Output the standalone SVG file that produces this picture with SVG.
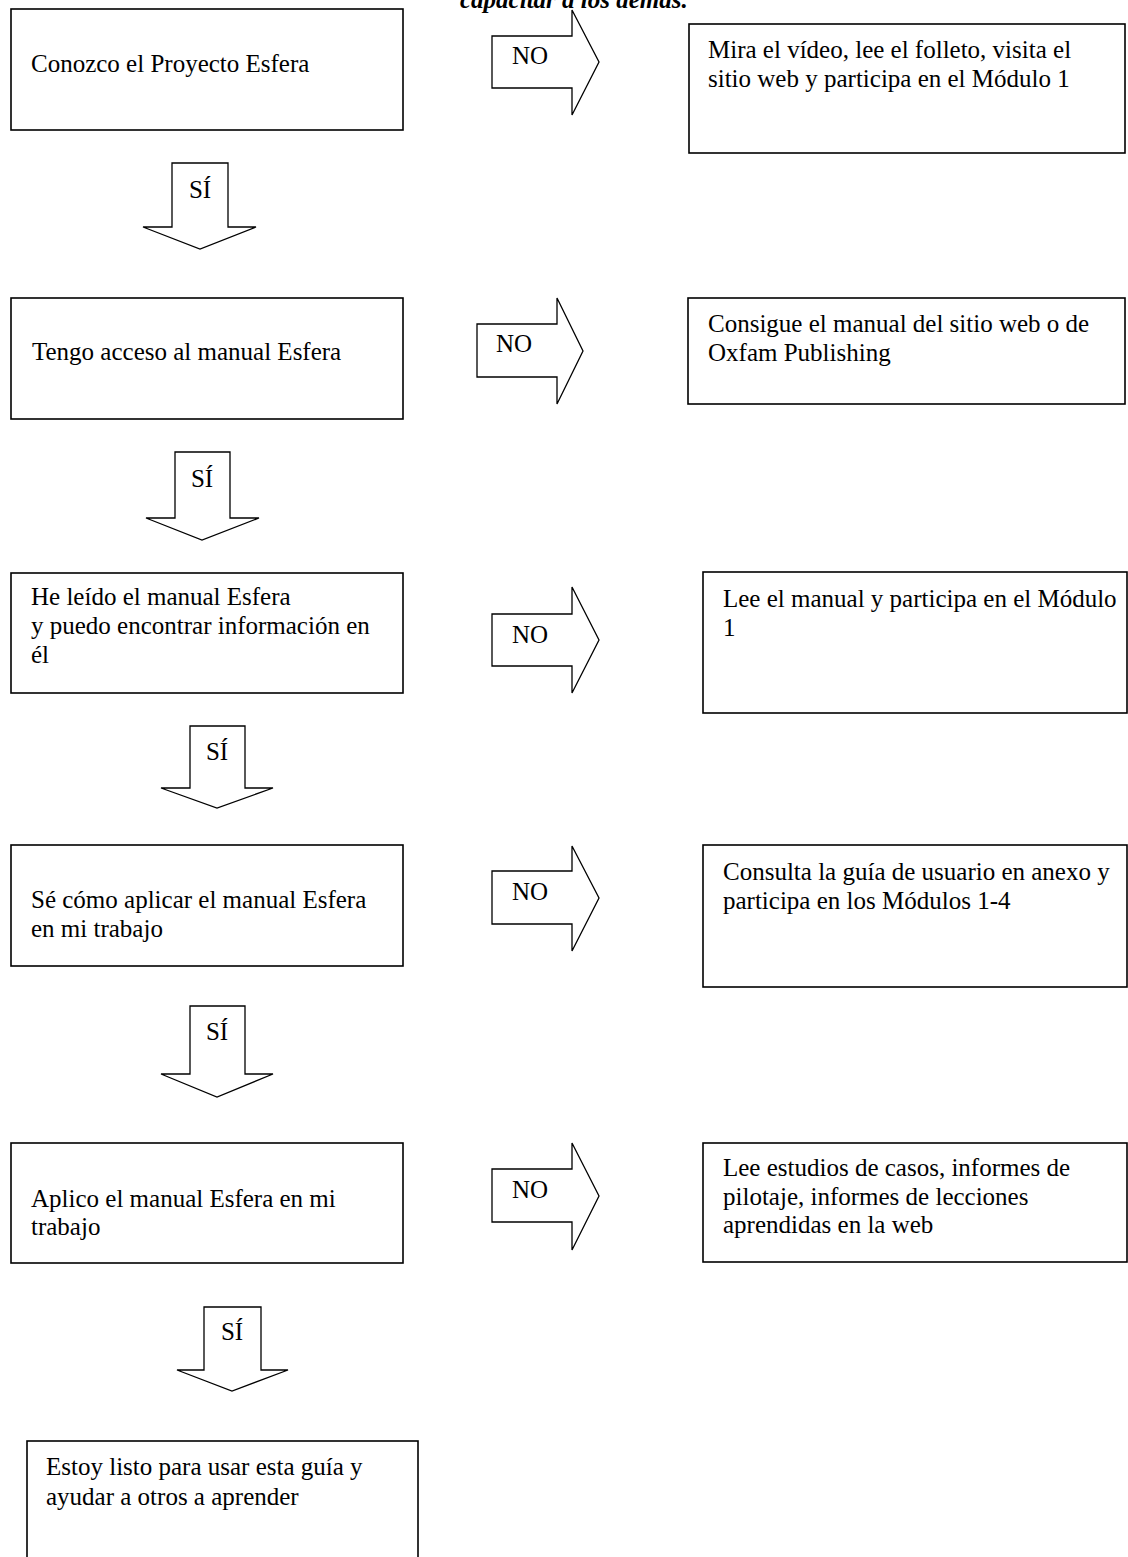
<svg xmlns="http://www.w3.org/2000/svg" width="1128" height="1557" viewBox="0 0 1128 1557">
<style>
  .box { fill: #fff; stroke: #000; stroke-width: 1.6; }
  .arr { fill: #fff; stroke: #000; stroke-width: 1.3; stroke-linejoin: miter; }
  text { font-family: "Liberation Serif", "Times New Roman", serif; font-size: 25px; fill: #000; }
  .lbl { text-anchor: middle; }
  .title { font-weight: bold; font-style: italic; }
</style>
<rect width="1128" height="1557" fill="#fff"/>
<text class="title" x="460" y="8">capacitar a los demás.</text>

<g id="connectors">
  <g id="no1"><polygon class="arr" points="492,36 572,36 572,10 599,62 572,115 572,88 492,88"/><text x="512" y="64">NO</text></g>
  <g id="no2"><polygon class="arr" points="477,324 557,324 557,298 583,351 557,404 557,377 477,377"/><text x="496" y="352">NO</text></g>
  <g id="no3"><polygon class="arr" points="492,614 572,614 572,587 599,640 572,693 572,666 492,666"/><text x="512" y="643">NO</text></g>
  <g id="no4"><polygon class="arr" points="492,871 572,871 572,846 599,898 572,951 572,924 492,924"/><text x="512" y="900">NO</text></g>
  <g id="no5"><polygon class="arr" points="492,1169 572,1169 572,1143 599,1196 572,1250 572,1222 492,1222"/><text x="512" y="1198">NO</text></g>

  <g id="si1"><polygon class="arr" points="172,163 228,163 228,227 256,227 200,249 143,227 172,227"/><text class="lbl" x="200" y="198">SÍ</text></g>
  <g id="si2"><polygon class="arr" points="175,452 230,452 230,518 259,518 202,540 146,518 175,518"/><text class="lbl" x="202" y="487">SÍ</text></g>
  <g id="si3"><polygon class="arr" points="190,726 245,726 245,788 273,788 217,808 161,788 190,788"/><text class="lbl" x="217" y="760">SÍ</text></g>
  <g id="si4"><polygon class="arr" points="190,1006 245,1006 245,1074 273,1074 217,1097 161,1074 190,1074"/><text class="lbl" x="217" y="1040">SÍ</text></g>
  <g id="si5"><polygon class="arr" points="204,1307 261,1307 261,1370 288,1370 232,1391 177,1370 204,1370"/><text class="lbl" x="232" y="1340">SÍ</text></g>
</g>

<g id="q1"><rect class="box" x="11" y="9" width="392" height="121"/><text x="31" y="72">Conozco el Proyecto Esfera</text></g>
<g id="a1"><rect class="box" x="689" y="24" width="436" height="129"/><text x="708" y="58">Mira el vídeo, lee el folleto, visita el</text><text x="708" y="87">sitio web y participa en el Módulo 1</text></g>

<g id="q2"><rect class="box" x="11" y="298" width="392" height="121"/><text x="32" y="360">Tengo acceso al manual Esfera</text></g>
<g id="a2"><rect class="box" x="688" y="298" width="437" height="106"/><text x="708" y="332">Consigue el manual del sitio web o de</text><text x="708" y="361">Oxfam Publishing</text></g>

<g id="q3"><rect class="box" x="11" y="573" width="392" height="120"/><text x="31" y="605">He leído el manual Esfera</text><text x="31" y="634">y puedo encontrar información en</text><text x="31" y="663">él</text></g>
<g id="a3"><rect class="box" x="703" y="572" width="424" height="141"/><text x="723" y="607">Lee el manual y participa en el Módulo</text><text x="723" y="636">1</text></g>

<g id="q4"><rect class="box" x="11" y="845" width="392" height="121"/><text x="31" y="908">Sé cómo aplicar el manual Esfera</text><text x="31" y="937">en mi trabajo</text></g>
<g id="a4"><rect class="box" x="703" y="845" width="424" height="142"/><text x="723" y="880">Consulta la guía de usuario en anexo y</text><text x="723" y="909">participa en los Módulos 1-4</text></g>

<g id="q5"><rect class="box" x="11" y="1143" width="392" height="120"/><text x="31" y="1207">Aplico el manual Esfera en mi</text><text x="31" y="1235">trabajo</text></g>
<g id="a5"><rect class="box" x="703" y="1143" width="424" height="119"/><text x="723" y="1176">Lee estudios de casos, informes de</text><text x="723" y="1205">pilotaje, informes de lecciones</text><text x="723" y="1233">aprendidas en la web</text></g>

<g id="q6"><rect class="box" x="27" y="1441" width="391" height="130"/><text x="46" y="1475">Estoy listo para usar esta guía y</text><text x="46" y="1505">ayudar a otros a aprender</text></g>
</svg>
